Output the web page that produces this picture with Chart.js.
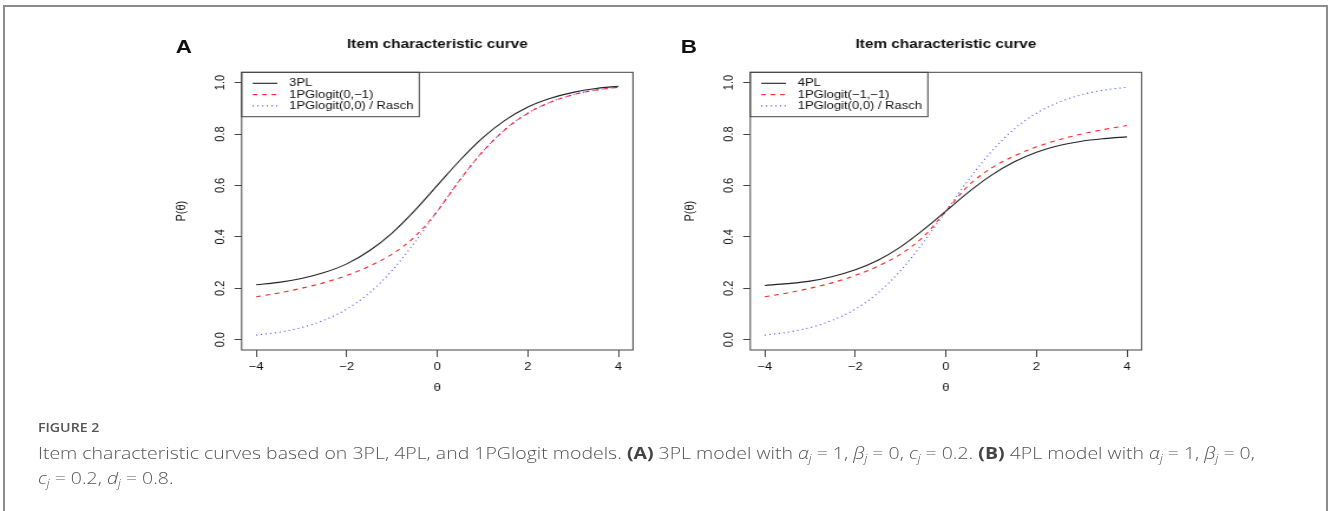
<!DOCTYPE html>
<html>
<head>
<meta charset="utf-8">
<script src="https://cdn.jsdelivr.net/npm/chart.js@4.4.1/dist/chart.umd.min.js"></script>
<style>
  body { margin: 0; background: #fff; width: 1328px; height: 511px; overflow: hidden; position: relative; font-family: "Liberation Sans", Arial, sans-serif; }
  #frame { position: absolute; left: 3px; top: 5px; width: 1321px; height: 530px; border: 2px solid #8c8c8c; }
  #plots { position: absolute; left: 0; top: 0; width: 1130px; height: 420px; transform: scaleX(1.18); transform-origin: 0 0; }
  #plots canvas { position: absolute; top: 20px; }
  .tag { position: absolute; top: 36px; font-weight: bold; font-size: 19px; color: #111; }
  #capwrap { position: absolute; left: 0; top: 0; width: 1125px; height: 511px; transform: scaleX(1.18); transform-origin: 0 0; }
  #caption { position: absolute; left: 32.2px; top: 419px; width: 1080px; font-family: "Open Sans", sans-serif; color: #555; white-space: nowrap; }
  #caption .fig { font-size: 12px; font-weight: 600; line-height: 18px; }
  #caption .txt { font-size: 16.5px; font-weight: 300; line-height: 25px; margin-top: 3px; }
  #caption b { font-weight: 700; color: #444; }
  #caption i { font-style: italic; }
  #caption sub { font-size: 10.5px; vertical-align: -3px; line-height: 0; }
</style>
</head>
<body>
<div id="frame"></div>
<div id="plots">
  <div class="tag" style="left:149px">A</div>
  <div class="tag" style="left:577px">B</div>
  <canvas id="chartA" width="430" height="385" style="left:120px"></canvas>
  <canvas id="chartB" width="430" height="385" style="left:551.4px"></canvas>
</div>
<div id="capwrap">
  <div id="caption">
    <div class="fig">FIGURE 2</div>
    <div class="txt">Item characteristic curves based on 3PL, 4PL, and 1PGlogit models. <b>(A)</b> 3PL model with <i>α<sub>j</sub></i> = 1, <i>β<sub>j</sub></i> = 0, <i>c<sub>j</sub></i> = 0.2. <b>(B)</b> 4PL model with <i>α<sub>j</sub></i> = 1, <i>β<sub>j</sub></i> = 0,<br><i>c<sub>j</sub></i> = 0.2, <i>d<sub>j</sub></i> = 0.8.</div>
  </div>
</div>
<script>
// theta grid
const theta = [-4, -3.5, -3, -2.5, -2, -1.5, -1, -0.5, 0, 0.5, 1, 1.5, 2, 2.5, 3, 3.5, 4];

// panel A
const p3pl = [0.214, 0.223, 0.238, 0.261, 0.295, 0.346, 0.415, 0.502, 0.600, 0.698, 0.785, 0.854, 0.905, 0.939, 0.962, 0.977, 0.986];
const pglogitA = [0.167, 0.182, 0.200, 0.222, 0.250, 0.286, 0.333, 0.400, 0.500, 0.622, 0.731, 0.818, 0.881, 0.924, 0.953, 0.971, 0.982];
// panel B
const p4pl = [0.211, 0.218, 0.228, 0.246, 0.272, 0.309, 0.361, 0.427, 0.500, 0.574, 0.639, 0.691, 0.729, 0.755, 0.772, 0.782, 0.789];
const pglogitB = [0.167, 0.182, 0.200, 0.222, 0.250, 0.286, 0.333, 0.400, 0.500, 0.600, 0.667, 0.714, 0.750, 0.778, 0.800, 0.818, 0.833];
// both panels
const rasch = [0.018, 0.029, 0.047, 0.076, 0.119, 0.182, 0.269, 0.378, 0.500, 0.622, 0.731, 0.818, 0.881, 0.924, 0.953, 0.971, 0.982];

const xTicks = [-4, -2, 0, 2, 4];
const xTickLabels = ['\u22124', '\u22122', '0', '2', '4'];
const yTicks = [0, 0.2, 0.4, 0.6, 0.8, 1.0];
const yTickLabels = ['0.0', '0.2', '0.4', '0.6', '0.8', '1.0'];

const FONT = '"Liberation Sans", Arial, sans-serif';

function pts(ys) {
  return theta.map((t, i) => ({ x: t, y: ys[i] }));
}

// box round the plot, main title, legend (R style)
const rFrame = {
  id: 'rFrame',
  afterDraw(chart, args, opts) {
    const { ctx, chartArea: a } = chart;
    ctx.save();
    ctx.strokeStyle = '#444';
    ctx.lineWidth = 1;
    ctx.strokeRect(a.left, a.top, a.right - a.left, a.bottom - a.top);

    ctx.fillStyle = '#111';
    ctx.font = 'bold 13px ' + FONT;
    ctx.textAlign = 'center';
    ctx.textBaseline = 'middle';
    ctx.fillText(opts.title, (a.left + a.right) / 2, 24);

    const w = 150.5, h = 44.4;
    ctx.strokeRect(a.left, a.top, w, h);
    ctx.font = '11px ' + FONT;
    ctx.textAlign = 'left';
    chart.data.datasets.forEach((ds, i) => {
      const y = a.top + 11 + i * 11.3;
      ctx.strokeStyle = ds.borderColor;
      ctx.lineWidth = ds.borderWidth;
      ctx.setLineDash(ds.borderDash || []);
      ctx.beginPath();
      ctx.moveTo(a.left + 9.3, y);
      ctx.lineTo(a.left + 30.2, y);
      ctx.stroke();
      ctx.setLineDash([]);
      ctx.fillStyle = '#111';
      ctx.fillText(ds.label, a.left + 40.3, y);
    });
    ctx.restore();
  }
};

function makeChart(id, title, series) {
  const styles = [
    { borderColor: '#222', borderDash: [] },
    { borderColor: '#ff2020', borderDash: [4, 4] },
    { borderColor: '#4848ff', borderDash: [1, 3] }
  ];
  return new Chart(document.getElementById(id), {
    type: 'line',
    data: {
      datasets: series.map((s, i) => ({
        label: s.label,
        data: pts(s.values),
        borderColor: styles[i].borderColor,
        borderDash: styles[i].borderDash,
        borderWidth: 1.1,
        pointRadius: 0,
        fill: false,
        cubicInterpolationMode: 'monotone'
      }))
    },
    options: {
      responsive: false,
      animation: false,
      layout: { padding: { left: 0, right: 13.6, top: 52.3, bottom: 0 } },
      plugins: {
        legend: { display: false },
        tooltip: { enabled: false },
        rFrame: { title: title }
      },
      scales: {
        x: {
          type: 'linear',
          min: -4.32,
          max: 4.32,
          afterBuildTicks: (s) => { s.ticks = xTicks.map(v => ({ value: v })); },
          afterFit: (s) => { s.height = 55; },
          border: { display: false },
          grid: { drawOnChartArea: false, tickLength: 7, tickColor: '#444', tickWidth: 1 },
          ticks: {
            padding: 3.5,
            color: '#111',
            font: { family: FONT, size: 11 },
            maxRotation: 0,
            callback: (v) => xTickLabels[xTicks.indexOf(v)]
          },
          title: { display: true, text: '\u03b8', color: '#111', font: { family: FONT, size: 11 }, padding: { top: 0, bottom: 10.4 } }
        },
        y: {
          min: -0.04,
          max: 1.04,
          afterBuildTicks: (s) => { s.ticks = yTicks.map(v => ({ value: v })); },
          afterFit: (s) => { s.width = 84.8; },
          border: { display: false },
          grid: { drawOnChartArea: false, tickLength: 6, tickColor: '#444', tickWidth: 1 },
          ticks: {
            padding: 4.5,
            color: '#111',
            crossAlign: 'center',
            minRotation: 90,
            maxRotation: 90,
            font: { family: FONT, size: 11 },
            callback: (v) => yTickLabels[yTicks.indexOf(v)]
          },
          title: { display: true, text: 'P(\u03b8)', color: '#111', font: { family: FONT, size: 11 }, padding: { top: 27.4, bottom: 0 } }
        }
      }
    },
    plugins: [rFrame]
  });
}

makeChart('chartA', 'Item characteristic curve', [
  { label: '3PL', values: p3pl },
  { label: '1PGlogit(0,\u22121)', values: pglogitA },
  { label: '1PGlogit(0,0) / Rasch', values: rasch }
]);

makeChart('chartB', 'Item characteristic curve', [
  { label: '4PL', values: p4pl },
  { label: '1PGlogit(\u22121,\u22121)', values: pglogitB },
  { label: '1PGlogit(0,0) / Rasch', values: rasch }
]);
</script>
</body>
</html>
